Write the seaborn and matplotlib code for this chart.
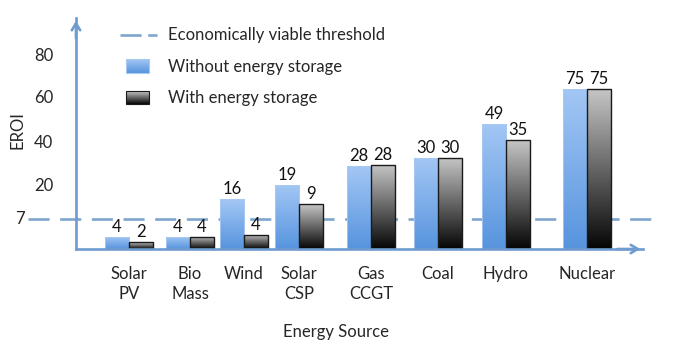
import numpy as np
import pandas as pd
import seaborn as sns
import matplotlib
matplotlib.use("Agg")
import matplotlib.pyplot as plt
from matplotlib.patches import Rectangle
from matplotlib.lines import Line2D
from matplotlib import transforms

# ---------------- data ----------------
sources = ["Solar\nPV", "Bio\nMass", "Wind", "Solar\nCSP", "Gas\nCCGT", "Coal", "Hydro", "Nuclear"]
eroi_without = [4, 4, 16, 19, 28, 30, 49, 75]   # labelled values
eroi_with = [2, 4, 4, 9, 28, 30, 35, 75]
# bar heights as drawn in the picture (read against the y axis)
bar_without = [2.8, 2.8, 14.6, 20.0, 28.8, 32.6, 48.0, 63.8]
bar_with = [1.6, 2.8, 3.3, 12.7, 29.3, 32.6, 40.9, 63.8]
storage_levels = ["Without energy storage", "With energy storage"]
threshold = 7
tick_values = [20, 40, 60, 80]
threshold_label = "Economically viable threshold"

# ---------------- layout ----------------
# horizontal slot of each category group on the x axis (uneven, as in the reference)
group_pos = [129, 190, 244, 299, 371, 438, 506, 587]

# ---------------- style ----------------
sns.set_style("white")
plt.rcParams["font.family"] = ["Lato", "DejaVu Sans"]
FS = 12
AXIS_C = "#6F9BD0"
DASH_C = "#7FA5CF"
BLUE_TOP, BLUE_BOT = np.array([0.64, 0.78, 0.96]), np.array([0.34, 0.58, 0.87])
GREY_TOP, GREY_BOT = np.array([0.78, 0.78, 0.78]), np.array([0.02, 0.02, 0.02])

W, H = 673, 353
fig = plt.figure(figsize=(W / 100, H / 100), dpi=100)
ax_left, ax_right, ax_base, ax_top = 76, 643, 249, 18
ax = fig.add_axes([ax_left / W, (H - ax_base) / H, (ax_right - ax_left) / W, (ax_base - ax_top) / H])

df = pd.DataFrame({
    "pos": group_pos * 2,
    "storage": [storage_levels[0]] * len(sources) + [storage_levels[1]] * len(sources),
    "height": bar_without + bar_with,
})
sns.barplot(data=df, x="pos", y="height", hue="storage", hue_order=storage_levels,
            palette=["#7FAEE8", "#555555"], saturation=1, width=0.89, dodge=True,
            native_scale=True, errorbar=None, legend=False, ax=ax, zorder=2)

# non-uniform value axis (as in the reference)
scale_pts = [0, 7, 20, 40, 60, 80, 100]
scale_px = [0, 30, 64, 107, 152, 194, 236]
fwd = lambda v: np.interp(v, scale_pts, scale_px)
inv = lambda p: np.interp(p, scale_px, scale_pts)
ax.set_yscale("function", functions=(fwd, inv))
XL = (ax_left, ax_right)
YL = (0, 97.6)
ax.set_xlim(*XL)
ax.set_ylim(*YL)

# gradient fills clipped to the bars
def grad_img(top, bot, n=256):
    t = np.linspace(0, 1, n)[:, None, None]
    return top[None, None, :] * (1 - t) + bot[None, None, :] * t

to_axes = ax.transAxes.inverted()
extents = []
for ci, cont in enumerate(ax.containers):
    for p in cont.patches:
        bb = p.get_window_extent()
        (x0, y0), (x1, y1) = to_axes.transform([[bb.x0, bb.y0], [bb.x1, bb.y1]])
        extents.append((ci, p, (x0, x1, y0, y1)))
for ci, p, ext in extents:
    img = grad_img(BLUE_TOP, BLUE_BOT) if ci == 0 else grad_img(GREY_TOP, GREY_BOT)
    im = ax.imshow(img, extent=ext, transform=ax.transAxes, aspect="auto",
                   interpolation="bilinear", zorder=2.1)
    im.set_clip_path(p)
    p.set_facecolor("none")
    if ci == 0:
        p.set_edgecolor("#A9C9F0")
        p.set_linewidth(0.6)
    else:
        p.set_edgecolor("#1A1A1A")
        p.set_linewidth(1.0)
    p.set_zorder(2.2)
ax.set_xlim(*XL)
ax.set_ylim(*YL)

# value labels
for cont, labs in zip(ax.containers, [eroi_without, eroi_with]):
    ax.bar_label(cont, labels=[str(v) for v in labs], padding=1.5, fontsize=FS, color="#111111")

# threshold line
ax.axhline(threshold, xmin=(28 - ax_left) / (ax_right - ax_left), xmax=(660 - ax_left) / (ax_right - ax_left),
           clip_on=False, color=DASH_C, lw=1.9, ls=(0, (8, 4)), zorder=1)
blend = transforms.blended_transform_factory(ax.transAxes, ax.transData)
ax.text((20 - ax_left) / (ax_right - ax_left), threshold, str(threshold), transform=blend,
        ha="center", va="center", fontsize=FS)

# axes styling
for s in ["top", "right"]:
    ax.spines[s].set_visible(False)
for s in ["left", "bottom"]:
    ax.spines[s].set_color(AXIS_C)
    ax.spines[s].set_linewidth(1.9)
    ax.spines[s].set_zorder(3)
ax.set_yticks(tick_values)
ax.set_yticklabels([str(v) for v in tick_values])
ax.yaxis.set_minor_locator(matplotlib.ticker.NullLocator())
ax.tick_params(axis="y", direction="inout", length=14.4, width=1.9, color=AXIS_C,
               labelsize=FS, pad=9)
ax.set_xticks(group_pos)
ax.set_xticklabels(sources)
ax.xaxis.set_minor_locator(matplotlib.ticker.NullLocator())
ax.tick_params(axis="x", length=0, labelsize=FS, pad=12)
for lbl in ax.get_xticklabels():
    lbl.set_linespacing(1.35)
ax.set_xlabel("Energy Source", fontsize=FS)
ax.xaxis.set_label_coords((336 - ax_left) / (ax_right - ax_left), (ax_base - 324) / (ax_base - ax_top))
ax.set_ylabel("EROI", fontsize=FS)
ax.yaxis.set_label_coords((25 - ax_left) / (ax_right - ax_left), (ax_base - 130) / (ax_base - ax_top))

# arrow heads
ax.annotate("", xy=(0, 1.0), xytext=(0, 0.9), xycoords="axes fraction",
            arrowprops=dict(arrowstyle="->,head_length=0.5,head_width=0.3", color=AXIS_C, lw=1.9),
            annotation_clip=False)
ax.annotate("", xy=(1.0, 0), xytext=(0.95, 0), xycoords="axes fraction",
            arrowprops=dict(arrowstyle="->,head_length=0.5,head_width=0.3", color=AXIS_C, lw=1.9),
            annotation_clip=False)

# legend (manual, figure pixels)
def fx(px):
    return px / W
def fy(py):
    return 1 - py / H

fig.add_artist(Line2D([fx(120), fx(157)], [fy(35), fy(35)], color=DASH_C, lw=1.9,
                      ls=(0, (8, 2.5)), transform=fig.transFigure))
fig.text(fx(168), fy(35), threshold_label, fontsize=FS, va="center", ha="left")
for (ptop, pbot), (ctop, cbot), edge, lab, yc in [
        ((59, 73), (BLUE_TOP, BLUE_BOT), "#A9C9F0", storage_levels[0], 67),
        ((91, 104), (GREY_TOP, GREY_BOT), "#1A1A1A", storage_levels[1], 98)]:
    ext = (fx(126), fx(149), fy(pbot), fy(ptop))
    ax.imshow(grad_img(ctop, cbot), extent=ext, transform=fig.transFigure, aspect="auto",
              interpolation="bilinear", clip_on=False, zorder=5)
    fig.add_artist(Rectangle((fx(126), fy(pbot)), fx(149) - fx(126), fy(ptop) - fy(pbot),
                             transform=fig.transFigure, fill=False, edgecolor=edge, lw=0.8))
    fig.text(fx(168), fy(yc), lab, fontsize=FS, va="center", ha="left")
ax.set_xlim(*XL)
ax.set_ylim(*YL)

fig.savefig("out.png", dpi=100)
